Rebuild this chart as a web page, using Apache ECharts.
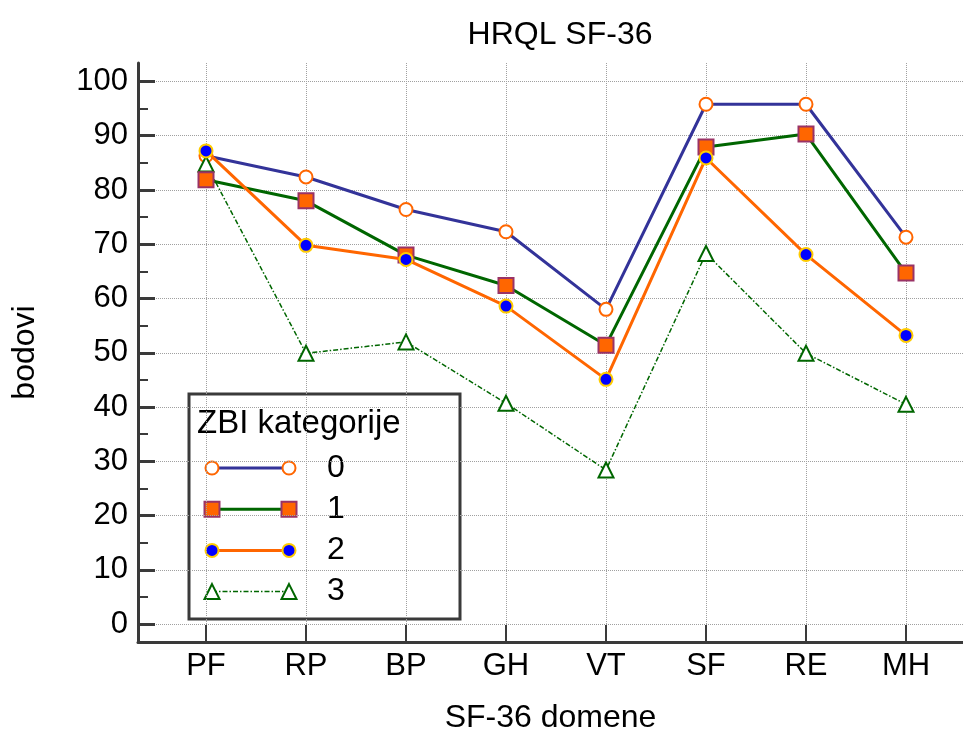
<!DOCTYPE html>
<html>
<head>
<meta charset="utf-8">
<script src="https://cdn.jsdelivr.net/npm/echarts@6/dist/echarts.min.js"></script>
<style>
html,body{margin:0;padding:0;background:#fff;}
#chart{width:963px;height:735px;}
</style>
</head>
<body>
<div id="chart"></div>
<script>
// ---- data ----
var categories = ['PF', 'RP', 'BP', 'GH', 'VT', 'SF', 'RE', 'MH'];
var seriesNames = ['0', '1', '2', '3'];
var zbi0 = [86.3, 82.4, 76.4, 72.3, 58.0, 95.8, 95.8, 71.3];
var zbi1 = [81.9, 78.0, 68.0, 62.4, 51.4, 87.9, 90.3, 64.7];
var zbi2 = [87.2, 69.8, 67.2, 58.6, 45.1, 85.9, 68.1, 53.2];
var zbi3 = [84.8, 49.9, 52.0, 40.7, 28.4, 68.3, 49.9, 40.5];
var yTicks = [0, 10, 20, 30, 40, 50, 60, 70, 80, 90, 100];
var yMinorTicks = [5, 15, 25, 35, 45, 55, 65, 75, 85, 95];

var FONT = '"Liberation Sans", Arial, sans-serif';
var AXIS_COLOR = '#3a3a3a';

var styles = [
  {symbol: 'circle', size: 13, fill: '#ffffff', stroke: '#ff6600', line: '#333399', width: 3, type: 'solid', z: 2},
  {symbol: 'rect', size: 15, fill: '#ff6600', stroke: '#993366', line: '#006600', width: 3, type: 'solid', z: 3},
  {symbol: 'circle', size: 13, fill: '#0000ff', stroke: '#ffcc00', line: '#ff6600', width: 3, type: 'solid', z: 4},
  {symbol: 'triangle', size: 15, fill: '#ffffff', stroke: '#006600', line: '#006600', width: 1.5, type: [5, 2, 1.5, 2], z: 2}
];
var allData = [zbi0, zbi1, zbi2, zbi3];

function toPairs(arr) {
  return arr.map(function (v, i) { return [i, v]; });
}

var series = allData.map(function (arr, k) {
  var s = styles[k];
  return {
    name: seriesNames[k],
    type: 'line',
    data: toPairs(arr),
    symbol: s.symbol,
    symbolSize: s.size,
    z: s.z,
    showAllSymbol: true,
    lineStyle: {color: s.line, width: s.width, type: s.type},
    itemStyle: {color: s.fill, borderColor: s.stroke, borderWidth: 2},
    emphasis: {disabled: true},
    animation: false
  };
});

// ---- legend (drawn as graphic) ----
var legendX = 189, legendY = 394, legendW = 271, legendH = 225;
var rowY0 = 468, rowStep = 41.2, symL = 212, symR = 289, labelX = 336;
var legendChildren = [
  {type: 'rect', shape: {x: legendX, y: legendY, width: legendW, height: legendH},
   style: {fill: '#ffffff', stroke: AXIS_COLOR, lineWidth: 3}},
  {type: 'text', x: 197, y: 424,
   style: {text: 'ZBI kategorije', font: '33px ' + FONT, fill: '#000', textVerticalAlign: 'middle', textAlign: 'left'}}
];
function legendSymbol(s, cx, cy) {
  var st = {fill: s.fill, stroke: s.stroke, lineWidth: 2};
  var h = s.size / 2;
  if (s.symbol === 'circle') {
    return {type: 'circle', shape: {cx: cx, cy: cy, r: h}, style: st};
  } else if (s.symbol === 'rect') {
    return {type: 'rect', shape: {x: cx - h, y: cy - h, width: s.size, height: s.size}, style: st};
  }
  return {type: 'polygon', shape: {points: [[cx, cy - h], [cx + h, cy + h], [cx - h, cy + h]]}, style: st};
}
styles.forEach(function (s, k) {
  var y = rowY0 + k * rowStep;
  legendChildren.push({type: 'line', shape: {x1: symL, y1: y, x2: symR, y2: y},
    style: {stroke: s.line, lineWidth: s.width, lineDash: s.type === 'solid' ? null : s.type}});
  legendChildren.push(legendSymbol(s, symL, y));
  legendChildren.push(legendSymbol(s, symR, y));
  legendChildren.push({type: 'text', x: labelX, y: y,
    style: {text: seriesNames[k], font: '32px ' + FONT, fill: '#000', textAlign: 'center', textVerticalAlign: 'middle'}});
});

var chart = echarts.init(document.getElementById('chart'), null, {renderer: 'canvas'});
chart.setOption({
  backgroundColor: '#ffffff',
  animation: false,
  textStyle: {fontFamily: FONT},
  title: {
    text: 'HRQL SF-36', left: 555, top: 14, textAlign: 'center',
    textStyle: {fontFamily: FONT, fontSize: 32, fontWeight: 'normal', color: '#000'}
  },
  grid: {left: 138, right: 0, top: 63, bottom: 93, containLabel: false, outerBoundsMode: 'none'},
  xAxis: {
    type: 'value', min: -0.68, max: 7.57,
    name: 'SF-36 domene', nameLocation: 'middle', nameGap: 60,
    nameTextStyle: {fontFamily: FONT, fontSize: 32, color: '#000'},
    axisLine: {show: true, onZero: false, lineStyle: {color: AXIS_COLOR, width: 3}},
    axisTick: {show: true, inside: true, length: 17, customValues: categories.map(function (c, i) { return i; }),
      lineStyle: {color: AXIS_COLOR, width: 2}},
    axisLabel: {customValues: categories.map(function (c, i) { return i; }), margin: 9,
      fontFamily: FONT, fontSize: 31, color: '#000',
      formatter: function (v) { return categories[Math.round(v)] || ''; }},
    splitLine: {show: true, lineStyle: {color: '#a0a0a0', width: 1, type: 'dotted'}},
    minorTick: {show: false}
  },
  yAxis: [{
    type: 'value', position: 'left', min: -3.3, max: 103.4,
    name: 'bodovi', nameLocation: 'middle', nameGap: 97, nameRotate: 90,
    nameTextStyle: {fontFamily: FONT, fontSize: 32, color: '#000'},
    axisLine: {show: true, onZero: false, lineStyle: {color: AXIS_COLOR, width: 3}},
    axisTick: {show: true, inside: true, length: 17, customValues: yTicks, lineStyle: {color: AXIS_COLOR, width: 3}},
    axisLabel: {customValues: yTicks, margin: 10, fontFamily: FONT, fontSize: 31, color: '#000'},
    splitLine: {show: true, lineStyle: {color: '#a0a0a0', width: 1, type: 'dotted'}}
  }, {
    type: 'value', position: 'left', min: -3.3, max: 103.4, offset: 0,
    axisLine: {show: false, onZero: false},
    axisTick: {show: true, inside: true, length: 10, customValues: yMinorTicks, lineStyle: {color: AXIS_COLOR, width: 2}},
    axisLabel: {show: false},
    splitLine: {show: false}
  }],
  series: series,
  graphic: [{type: 'group', z: 100, children: legendChildren}]
});
</script>
</body>
</html>
